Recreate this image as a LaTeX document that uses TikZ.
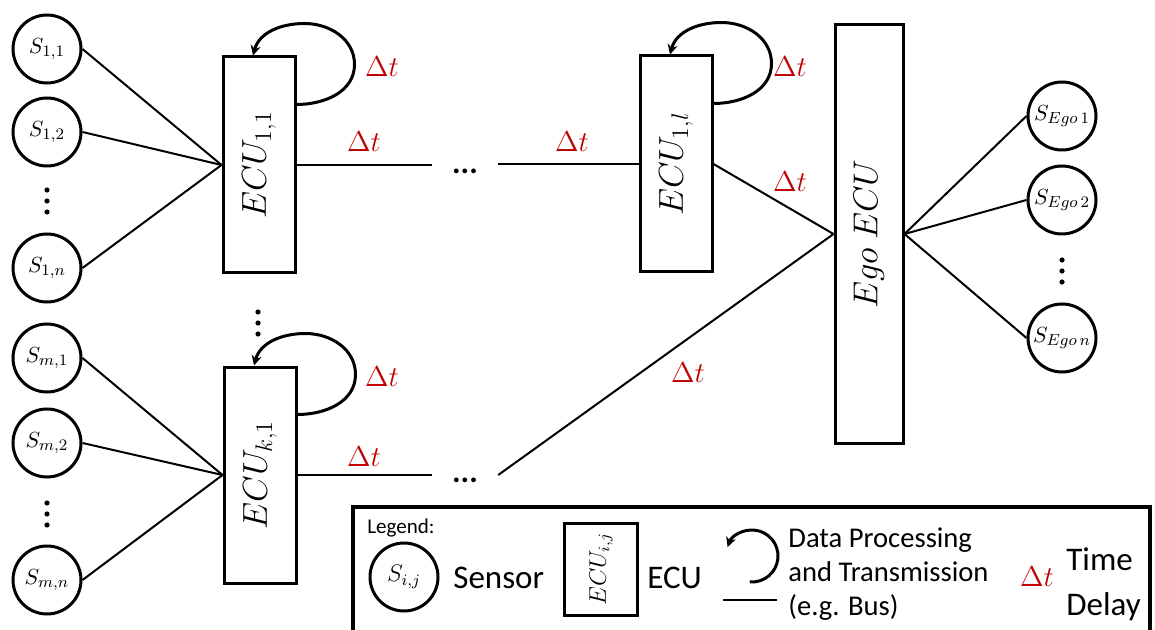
\documentclass[tikz,border=0pt]{standalone}
\usepackage[no-math]{fontspec}
\setmainfont{Carlito}
\usepackage{graphicx}
\usetikzlibrary{arrows.meta,calc}

\definecolor{delayred}{RGB}{192,0,0}

\tikzset{
  sensor/.style={draw, circle, line width=1.5pt, minimum size=34pt, inner sep=0pt, font=\fontsize{10.95}{13}\selectfont},
  ecubox/.style={draw, rectangle, line width=1.5pt, minimum width=36pt, minimum height=108pt, inner sep=0pt, font=\fontsize{17.28}{20}\selectfont},
  egobox/.style={ecubox, minimum width=34pt, minimum height=209pt},
  bus/.style={line width=1pt},
  delay/.style={text=delayred, inner sep=0pt, font=\fontsize{14.4}{17}\selectfont},
  procloop/.style={line width=1.5pt, -{Stealth[length=5pt,width=5pt]}},
  vdts/.pic={\foreach \k in {-11,0,11} \fill (0,\k) circle (1.3pt);},
  hdotsnode/.style={inner xsep=10pt, inner ysep=0pt, font=\fontsize{16}{16}\selectfont\bfseries},
  legendframe/.style={draw, line width=2pt},
  legendtitle/.style={anchor=west, inner sep=0pt, font=\fontsize{10.5}{12}\selectfont},
  legendtext/.style={anchor=west, inner sep=0pt, font=\fontsize{16.5}{22.5}\selectfont}
}

\newcommand{\eculoop}[1]{%
  \draw[procloop] ($(#1.north east)+(0,49)$) to[out=0,in=-90] ++(58,-40)
    to[out=90,in=0] ++(-50,-41) to[out=180,in=75] ($(#1.north)+(-6,0)$);}

\begin{document}
\begin{tikzpicture}[x=0.5pt, y=-0.5pt]
    \useasboundingbox (0,0) rectangle (1155,630);

    % Sensors of the first ECU
    \node[sensor] (s11) at (47,49) {$S_{1,1}$};
    \node[sensor] (s12) at (47,132) {$S_{1,2}$};
    \pic at (47,201) {vdts};
    \node[sensor] (s1n) at (47,268) {$S_{1,n}$};

    % Sensors of the k-th ECU
    \node[sensor] (sm1) at (47,358) {$S_{m,1}$};
    \node[sensor] (sm2) at (47,443) {$S_{m,2}$};
    \pic at (47,514) {vdts};
    \node[sensor] (smn) at (47,580) {$S_{m,n}$};

    % ECUs
    \node[ecubox] (e11) at (259,165) {\rotatebox{90}{$ECU_{1,1}$}};
    \node[ecubox] (e1l) at (676,164) {\rotatebox{90}{$ECU_{1,l}$}};
    \pic at (258,323) {vdts};
    \node[ecubox] (ek1) at (260,475) {\rotatebox{90}{$ECU_{k,1}$}};
    \node[egobox] (ego) at (869,234) {\rotatebox{90}{$Ego\ ECU$}};

    % Ego sensors
    \node[sensor] (se1) at (1062,116) {$S_{Ego\,1}$};
    \node[sensor] (se2) at (1062,200) {$S_{Ego\,2}$};
    \pic at (1062,271) {vdts};
    \node[sensor] (sen) at (1062,338) {$S_{Ego\,n}$};

    % Sensor buses
    \foreach \s in {s11,s12,s1n} \draw[bus] (\s.east) -- (e11.west);
    \foreach \s in {sm1,sm2,smn} \draw[bus] (\s.east) -- (ek1.west);
    \foreach \s in {se1,se2,sen} \draw[bus] (ego.east) -- (\s.west);

    % ECU chains
    \node[hdotsnode] (h1) at (465,171) {...};
    \draw[bus] (e11.east) -- (e11.east -| h1.west);
    \draw[bus] (h1.east |- e1l.west) -- (e1l.west);
    \draw[bus] (e1l.east) -- (ego.west);
    \node[hdotsnode] (h2) at (465,480) {...};
    \draw[bus] (ek1.east) -- (ek1.east -| h2.west);
    \draw[bus] (h2.east |- ek1.east) -- (ego.west);

    % Processing loops
    \eculoop{e11}
    \eculoop{e1l}
    \eculoop{ek1}

    % Time delays
    \node[delay] (d1) at (382,67) {$\Delta t$};
    \node[delay] (d2) at (790,67) {$\Delta t$};
    \node[delay] (d3) at (382,377) {$\Delta t$};
    \node[delay] (d4) at (364,142) {$\Delta t$};
    \node[delay] (d5) at (572,142) {$\Delta t$};
    \node[delay] (d6) at (364,457) {$\Delta t$};
    \node[delay] (d7) at (790,182) {$\Delta t$};
    \node[delay] (d8) at (688,373) {$\Delta t$};

    % Legend
    \draw[legendframe] (353,507) rectangle (1150,660);
    \node[legendtitle] (lt) at (367,528) {Legend:};
    \node[sensor, font=\fontsize{12}{14}\selectfont] (ls) at (404,577) {$S_{i,j}$};
    \node[legendtext] (lst) at (453,578) {Sensor};
    \node[ecubox, minimum width=36.5pt, minimum height=46pt, font=\fontsize{12}{14}\selectfont] (le) at (601,569) {\rotatebox{90}{$ECU_{i,j}$}};
    \node[legendtext] (let) at (647,578) {ECU};
    \coordinate (lc) at (752,556);
    \draw[procloop] ($(lc)+(-95:13pt)$) arc[start angle=-95, end angle=160, radius=13pt];
    \node[legendtext, align=left, font=\fontsize{14.3}{17}\selectfont] (ldp) at (788,574) {Data Processing\\and Transmission\\(e.g. Bus)};
    \coordinate (lb1) at (723,600);
    \coordinate (lb2) at (777,600);
    \draw[bus] (lb1) -- (lb2);
    \node[delay] (ldt) at (1037,577) {$\Delta t$};
    \node[legendtext, align=left] (ltd) at (1066,584) {Time\\Delay};
\end{tikzpicture}
\end{document}
